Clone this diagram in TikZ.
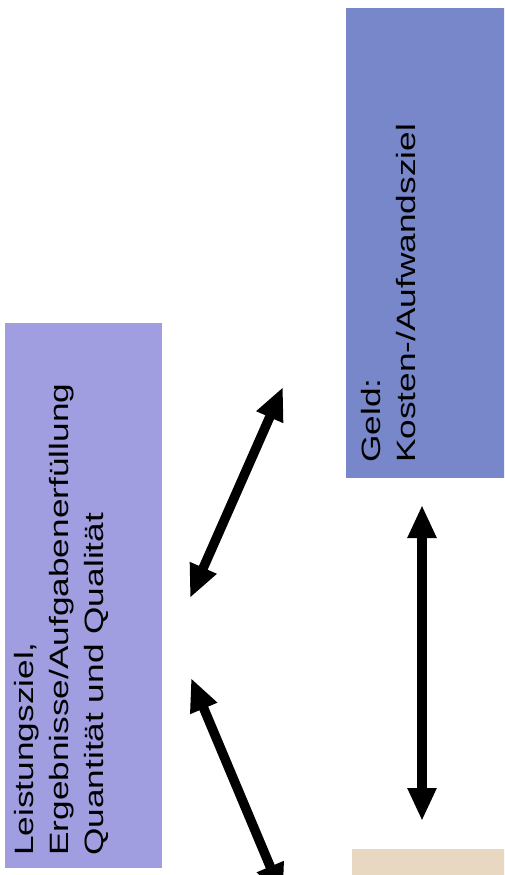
\documentclass[tikz,border=0pt]{standalone}
\usepackage{fontspec}
\setmainfont{Liberation Sans}
\usetikzlibrary{arrows.meta}
\definecolor{leistung}{HTML}{A09EE0}
\definecolor{geld}{HTML}{7887C9}
\definecolor{beige}{HTML}{E8D8C2}
\tikzset{
  box/.style={draw=none, inner sep=0pt, anchor=north west},
  vtext/.style={rotate=90, anchor=base west, inner sep=0pt, font=\fontsize{26.5}{30}\selectfont},
  dblarrow/.style={line width=9.5pt, {Triangle[length=33pt,width=27pt]}-{Triangle[length=33pt,width=27pt]}},
}
\begin{document}
\begin{tikzpicture}[x=1pt,y=-1pt]
\useasboundingbox (0,0) rectangle (504,875);
\clip (0,0) rectangle (504,875);
% boxes
\node[box, fill=leistung, minimum width=157pt, minimum height=545pt] (lbox) at (5,323) {};
\node[box, fill=geld, minimum width=170pt, minimum height=470pt] (gbox) at (346,8) {};
\node[box, fill=beige, minimum width=170pt, minimum height=80pt] (bbox) at (352,849) {};
% texts
\node[vtext] (l1) at (33,856) {\scalebox{1.33}[1]{Leistungsziel,}};
\node[vtext] (l2) at (68,856) {\scalebox{1.33}[1]{Ergebnisse/Aufgabenerfüllung}};
\node[vtext] (l3) at (103,856) {\scalebox{1.33}[1]{Quantität und Qualität}};
\node[vtext] (g1) at (380,463) {\scalebox{1.33}[1]{Geld:}};
\node[vtext] (g2) at (415,463) {\scalebox{1.33}[1]{Kosten-/Aufwandsziel}};
% arrow end points
\coordinate (a1) at (283,387);
\coordinate (a2) at (190,598);
\coordinate (b1) at (191,678);
\coordinate (b2) at (283,897);
\coordinate (c1) at (422,505);
\coordinate (c2) at (422,821);
\draw[dblarrow] (a1) -- (a2);
\draw[dblarrow] (b1) -- (b2);
\draw[dblarrow] (c1) -- (c2);
\end{tikzpicture}
\end{document}
